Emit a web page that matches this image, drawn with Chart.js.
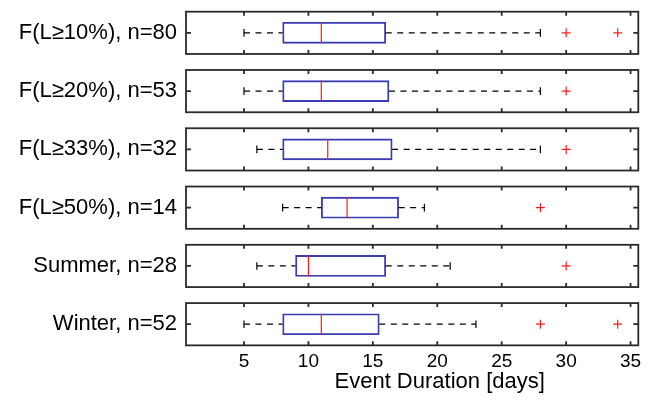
<!DOCTYPE html>
<html>
<head>
<meta charset="utf-8">
<script src="https://cdn.jsdelivr.net/npm/chart.js@4.4.0/dist/chart.umd.min.js"></script>
<style>
html,body{margin:0;padding:0;background:#fff;}
#wrap{position:relative;width:652px;height:403px;}
</style>
</head>
<body>
<div id="wrap"><canvas id="c" width="652" height="403"></canvas></div>
<script>
// ---- data ----
const groupLabels = ['F(L\u226510%), n=80', 'F(L\u226520%), n=53', 'F(L\u226533%), n=32', 'F(L\u226550%), n=14', 'Summer, n=28', 'Winter, n=52'];
const whiskerLow  = [5, 5, 6, 8, 6, 5];
const quartile1   = [8, 8, 8, 11, 9, 8];
const medians     = [11, 11, 11.5, 13, 10, 11];
const quartile3   = [16, 16.25, 16.5, 17, 16, 15.5];
const whiskerHigh = [28, 28, 28, 19, 21, 23];
const outliers    = [[30, 34], [30], [30], [28], [30], [28, 34]];
const xTicks      = [5, 10, 15, 20, 25, 30, 35];
const xTitle      = 'Event Duration [days]';

// group k is placed at y = n - k (top to bottom)
const n = groupLabels.length;
const pos = groupLabels.map((_, i) => n - i);
const halfPanel = 0.3627;

const FONT = "'Liberation Sans', Arial, Helvetica, sans-serif";
const BLUE = '#3a3db0';
const RED = '#f02020';
const AXIS = '#2b2b2b';

const datasets = [];
// boxes
datasets.push({
  type: 'bar',
  indexAxis: 'y',
  data: pos.map((y, i) => ({ y: y, x: [quartile1[i], quartile3[i]] })),
  backgroundColor: 'rgba(0,0,0,0)',
  borderColor: BLUE,
  borderWidth: 1.2,
  borderSkipped: false,
  barThickness: 21,
  order: 2
});
// whiskers (dashed)
pos.forEach((y, i) => {
  datasets.push({
    type: 'line',
    data: [{ x: whiskerLow[i], y: y }, { x: quartile1[i], y: y }],
    borderColor: '#000', borderWidth: 1.2, borderDash: [6, 5.5],
    pointRadius: 0, fill: false, order: 1
  });
  datasets.push({
    type: 'line',
    data: [{ x: quartile3[i], y: y }, { x: whiskerHigh[i], y: y }],
    borderColor: '#000', borderWidth: 1.2, borderDash: [6, 5.5],
    pointRadius: 0, fill: false, order: 1
  });
});
// whisker caps
datasets.push({
  type: 'scatter',
  data: pos.flatMap((y, i) => [{ x: whiskerLow[i], y: y }, { x: whiskerHigh[i], y: y }]),
  pointStyle: 'line', rotation: 90, radius: 3.8,
  borderColor: '#000', borderWidth: 1.2, order: 0
});
// medians
datasets.push({
  type: 'scatter',
  data: pos.map((y, i) => ({ x: medians[i], y: y })),
  pointStyle: 'line', rotation: 90, radius: 10.5,
  borderColor: RED, borderWidth: 1.2, order: 0
});
// outliers
datasets.push({
  type: 'scatter',
  data: pos.flatMap((y, i) => outliers[i].map(v => ({ x: v, y: y }))),
  pointStyle: 'cross', radius: 4.5,
  borderColor: RED, borderWidth: 1.2, order: 0
});

const framePlugin = {
  id: 'frames',
  afterDatasetsDraw(chart) {
    const ctx = chart.ctx;
    const xs = chart.scales.x, ys = chart.scales.y;
    const L = xs.left, R = xs.right;
    ctx.save();
    ctx.strokeStyle = AXIS;
    ctx.lineWidth = 1.8;
    pos.forEach(y => {
      const top = ys.getPixelForValue(y + halfPanel);
      const bot = ys.getPixelForValue(y - halfPanel);
      const mid = ys.getPixelForValue(y);
      ctx.strokeRect(L, top, R - L, bot - top);
      ctx.beginPath();
      xTicks.forEach(t => {
        const px = xs.getPixelForValue(t);
        ctx.moveTo(px, top); ctx.lineTo(px, top + 4);
        ctx.moveTo(px, bot); ctx.lineTo(px, bot - 4);
      });
      ctx.moveTo(L, mid); ctx.lineTo(L + 5, mid);
      ctx.moveTo(R, mid); ctx.lineTo(R - 5, mid);
      ctx.stroke();
    });
    ctx.restore();
  }
};

new Chart(document.getElementById('c'), {
  type: 'bar',
  data: { datasets: datasets },
  options: {
    responsive: false,
    animation: false,
    indexAxis: 'y',
    layout: { padding: { top: 8.3, right: 13.7, left: 0, bottom: 0 } },
    plugins: { legend: { display: false }, tooltip: { enabled: false } },
    scales: {
      x: {
        type: 'linear', min: 0.5, max: 35.6, offset: false,
        afterBuildTicks: s => { s.ticks = xTicks.map(v => ({ value: v })); },
        afterFit: s => { s.height = 57.65; s.paddingLeft = 0; s.paddingRight = 0; s.paddingTop = 0; s.paddingBottom = 0; },
        grid: { display: false, drawTicks: false, offset: false },
        border: { display: false },
        ticks: { color: '#000', padding: 5, font: { family: FONT, size: 19 } },
        title: {
          display: true, text: '         ' + xTitle, color: '#000',
          font: { family: FONT, size: 22 }, padding: { top: 0, bottom: 8 }
        }
      },
      y: {
        type: 'linear', min: 1 - halfPanel, max: n + halfPanel, offset: false,
        afterBuildTicks: s => { s.ticks = pos.map(v => ({ value: v })); },
        afterFit: s => { s.width = 186; s.paddingLeft = 0; s.paddingRight = 0; s.paddingTop = 0; s.paddingBottom = 0; },
        grid: { display: false, drawTicks: false, offset: false },
        border: { display: false },
        ticks: {
          color: '#000', padding: 9, font: { family: FONT, size: 22 },
          callback: v => { const k = pos.indexOf(v); return k >= 0 ? groupLabels[k] : ''; }
        }
      }
    }
  },
  plugins: [framePlugin]
});
</script>
</body>
</html>
